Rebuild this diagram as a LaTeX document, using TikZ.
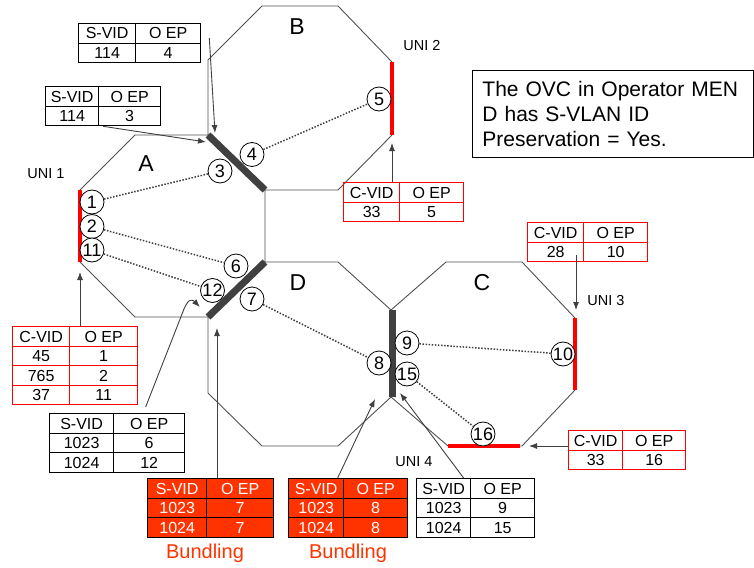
\documentclass[tikz,border=0pt]{standalone}
\usepackage{fontspec}
\setmainfont{Liberation Sans}
\usetikzlibrary{arrows.meta, matrix, calc, positioning}

\definecolor{edgegray}{HTML}{505050}
\definecolor{bargray}{HTML}{404040}
\definecolor{unired}{HTML}{FF0000}
\definecolor{bundred}{HTML}{FF3300}
\newcommand{\tabfont}{\fontsize{16}{18}\selectfont}
\newcommand{\epfont}{\fontsize{18}{18}\selectfont}

\begin{document}
\begin{tikzpicture}[x=1pt, y=-1pt,
  edge/.style={draw=edgegray, line width=0.9pt},
  nni/.style={draw=bargray, line width=7pt},
  uni/.style={draw=unired, line width=4pt},
  flow/.style={draw=bargray, line width=1.5pt, dash pattern=on 1.5pt off 1.6pt},
  ep/.style={circle, draw=black, fill=white, line width=0.8pt, minimum size=24pt, inner sep=0pt, font=\epfont},
  men/.style={font=\fontsize{23}{23}\selectfont},
  unilabel/.style={font=\fontsize{14.5}{14.5}\selectfont},
  vtab/.style={matrix of nodes, anchor=north west, inner sep=0pt, row sep=-0.9pt, column sep=-0.9pt,
    nodes={draw=black, line width=0.9pt, minimum height=19.5pt, text height=11.2pt, text depth=0pt, inner sep=0pt, font=\tabfont}},
  redtab/.style={vtab, nodes={draw=unired}},
  bundtab/.style={vtab, nodes={fill=bundred, text=white}},
  cols/.style 2 args={column 1/.style={nodes={minimum width=#1}}, column 2/.style={nodes={minimum width=#2}}},
  notebox/.style={draw=black, line width=0.9pt, text width=261pt, inner xsep=10pt, minimum height=87pt, align=left, font=\fontsize{21}{25}\selectfont},
  bundle/.style={text=bundred, font=\fontsize{20}{20}\selectfont},
  arrow/.style={draw=bargray, line width=0.9pt, -{Latex[length=8pt,width=6pt]}}]

  \useasboundingbox (0,0) rectangle (754,567);

  % Operator MENs
  \draw [edge] (135,135) -- (208,135) -- (265,190) -- (265,262) -- (208,317) -- (135,317) -- (80,262) -- (80,190) -- cycle;
  \draw [edge] (262,6) -- (338,6) -- (392,62) -- (392,135) -- (338,190) -- (265,190) -- (208,135) -- (208,60) -- cycle;
  \draw [edge] (265,262) -- (338,262) -- (391,310) -- (391,397) -- (338,446) -- (262,446) -- (208,393) -- (208,317) -- cycle;
  \draw [edge] (446,262) -- (522,262) -- (575,318) -- (575,390) -- (522,446) -- (448,446) -- (391,397) -- (391,310) -- cycle;

  \node (menA) [men] at (146,164) {A};
  \node (menB) [men] at (297,27) {B};
  \node (menD) [men] at (298,283) {D};
  \node (menC) [men] at (482,283) {C};

  % ENNIs and UNIs
  \draw [nni] (208,135) -- (265,190);
  \draw [nni] (265,262) -- (208,317);
  \draw [nni] (392,310) -- (392,397);
  \draw [uni] (80,190) -- (80,262);
  \draw [uni] (392,62) -- (392,135);
  \draw [uni] (575,318) -- (575,390);
  \draw [uni] (448,446) -- (520,446);

  \node (uni1) [unilabel] at (46,174) {UNI 1};
  \node (uni2) [unilabel] at (422,46) {UNI 2};
  \node (uni3) [unilabel] at (606,301) {UNI 3};
  \node (uni4) [unilabel] at (414,462) {UNI 4};

  % OVC end points
  \node (e1) [ep] at (92,202) {1};
  \node (e2) [ep] at (92,226.5) {2};
  \node (e11) [ep] at (92,250) {11};
  \node (e3) [ep] at (220,171) {3};
  \node (e4) [ep] at (252,154.5) {4};
  \node (e5) [ep] at (379,99) {5};
  \node (e6) [ep] at (236,266) {6};
  \node (e12) [ep] at (212.5,290.5) {12};
  \node (e7) [ep] at (252,299) {7};
  \node (e8) [ep] at (379,363) {8};
  \node (e9) [ep] at (407,343) {9};
  \node (e15) [ep] at (407,374) {15};
  \node (e10) [ep] at (563,354) {10};
  \node (e16) [ep] at (483,434) {16};

  \draw [flow] (e1) -- (e3);
  \draw [flow] (e2) -- (e6);
  \draw [flow] (e11) -- (e12);
  \draw [flow] (e4) -- (e5);
  \draw [flow] (e7) -- (e8);
  \draw [flow] (e9) -- (e10);
  \draw [flow] (e15) -- (e16);

  % Tables
  \matrix (tB) [vtab, cols={57pt}{65pt}] at (78,23) {S-VID & O EP \\ 114 & 4 \\};
  \matrix (tA) [vtab, cols={53pt}{62pt}] at (45,86) {S-VID & O EP \\ 114 & 3 \\};
  \matrix (tU1) [redtab, cols={57pt}{68pt}] at (12,326) {C-VID & O EP \\ 45 & 1 \\ 765 & 2 \\ 37 & 11 \\};
  \matrix (tS6) [vtab, cols={64pt}{71pt}] at (49,413) {S-VID & O EP \\ 1023 & 6 \\ 1024 & 12 \\};
  \matrix (tBd1) [bundtab, cols={59pt}{67pt}] at (147,478) {S-VID & O EP \\ 1023 & 7 \\ 1024 & 7 \\};
  \matrix (tBd2) [bundtab, cols={55pt}{64pt}] at (288,478) {S-VID & O EP \\ 1023 & 8 \\ 1024 & 8 \\};
  \matrix (tS9) [vtab, cols={54pt}{64pt}] at (416,478) {S-VID & O EP \\ 1023 & 9 \\ 1024 & 15 \\};
  \matrix (tU2) [redtab, cols={56pt}{64pt}] at (343,182) {C-VID & O EP \\ 33 & 5 \\};
  \matrix (tU3) [redtab, cols={56pt}{64pt}] at (527,222) {C-VID & O EP \\ 28 & 10 \\};
  \matrix (tU4) [redtab, cols={54pt}{63pt}] at (568,430) {C-VID & O EP \\ 33 & 16 \\};

  \node (bund1) [bundle] at (205,553) {Bundling};
  \node (bund2) [bundle] at (348,553) {Bundling};

  \node (note) [notebox, anchor=north west] at (472,70) {The OVC in Operator MEN\\ D has S-VLAN ID\\ Preservation = Yes.};

  % Arrows
  \coordinate (hAB4) at (215,133);
  \coordinate (hAB3) at (206,142);
  \coordinate (hU1) at (80,272);
  \coordinate (hAD) at (200,307);
  \coordinate (hD7) at (217,328);
  \coordinate (hD8) at (375,399);
  \coordinate (hC9) at (400,393);
  \coordinate (hU2) at (392,143);
  \coordinate (hU3) at (576,310);
  \coordinate (hU4) at (529,446);

  \draw [arrow] ($(tB.north east)+(8,15)$) -- (hAB4);
  \draw [arrow] (tA.south) -- (hAB3);
  \draw [arrow] (tU1.north -| hU1) -- (hU1);
  \draw [arrow] ($(tS6.north)+(28.5,-6)$) -- (184,309) .. controls (189,297) and (193,300) .. (hAD);
  \draw [arrow] (tBd1.north -| hD7) -- (hD7);
  \draw [arrow] ($(tBd2.north)+(-10.5,0)$) -- (hD8);
  \draw [arrow] ($(tS9.north)+(-12,0)$) -- (hC9);
  \draw [arrow] (tU2.north -| hU2) -- (hU2);
  \draw [arrow] ($(tU3.south -| hU3)+(0,-7)$) -- (hU3);
  \draw [arrow] (tU4.west |- hU4) -- (hU4);

\end{tikzpicture}
\end{document}
